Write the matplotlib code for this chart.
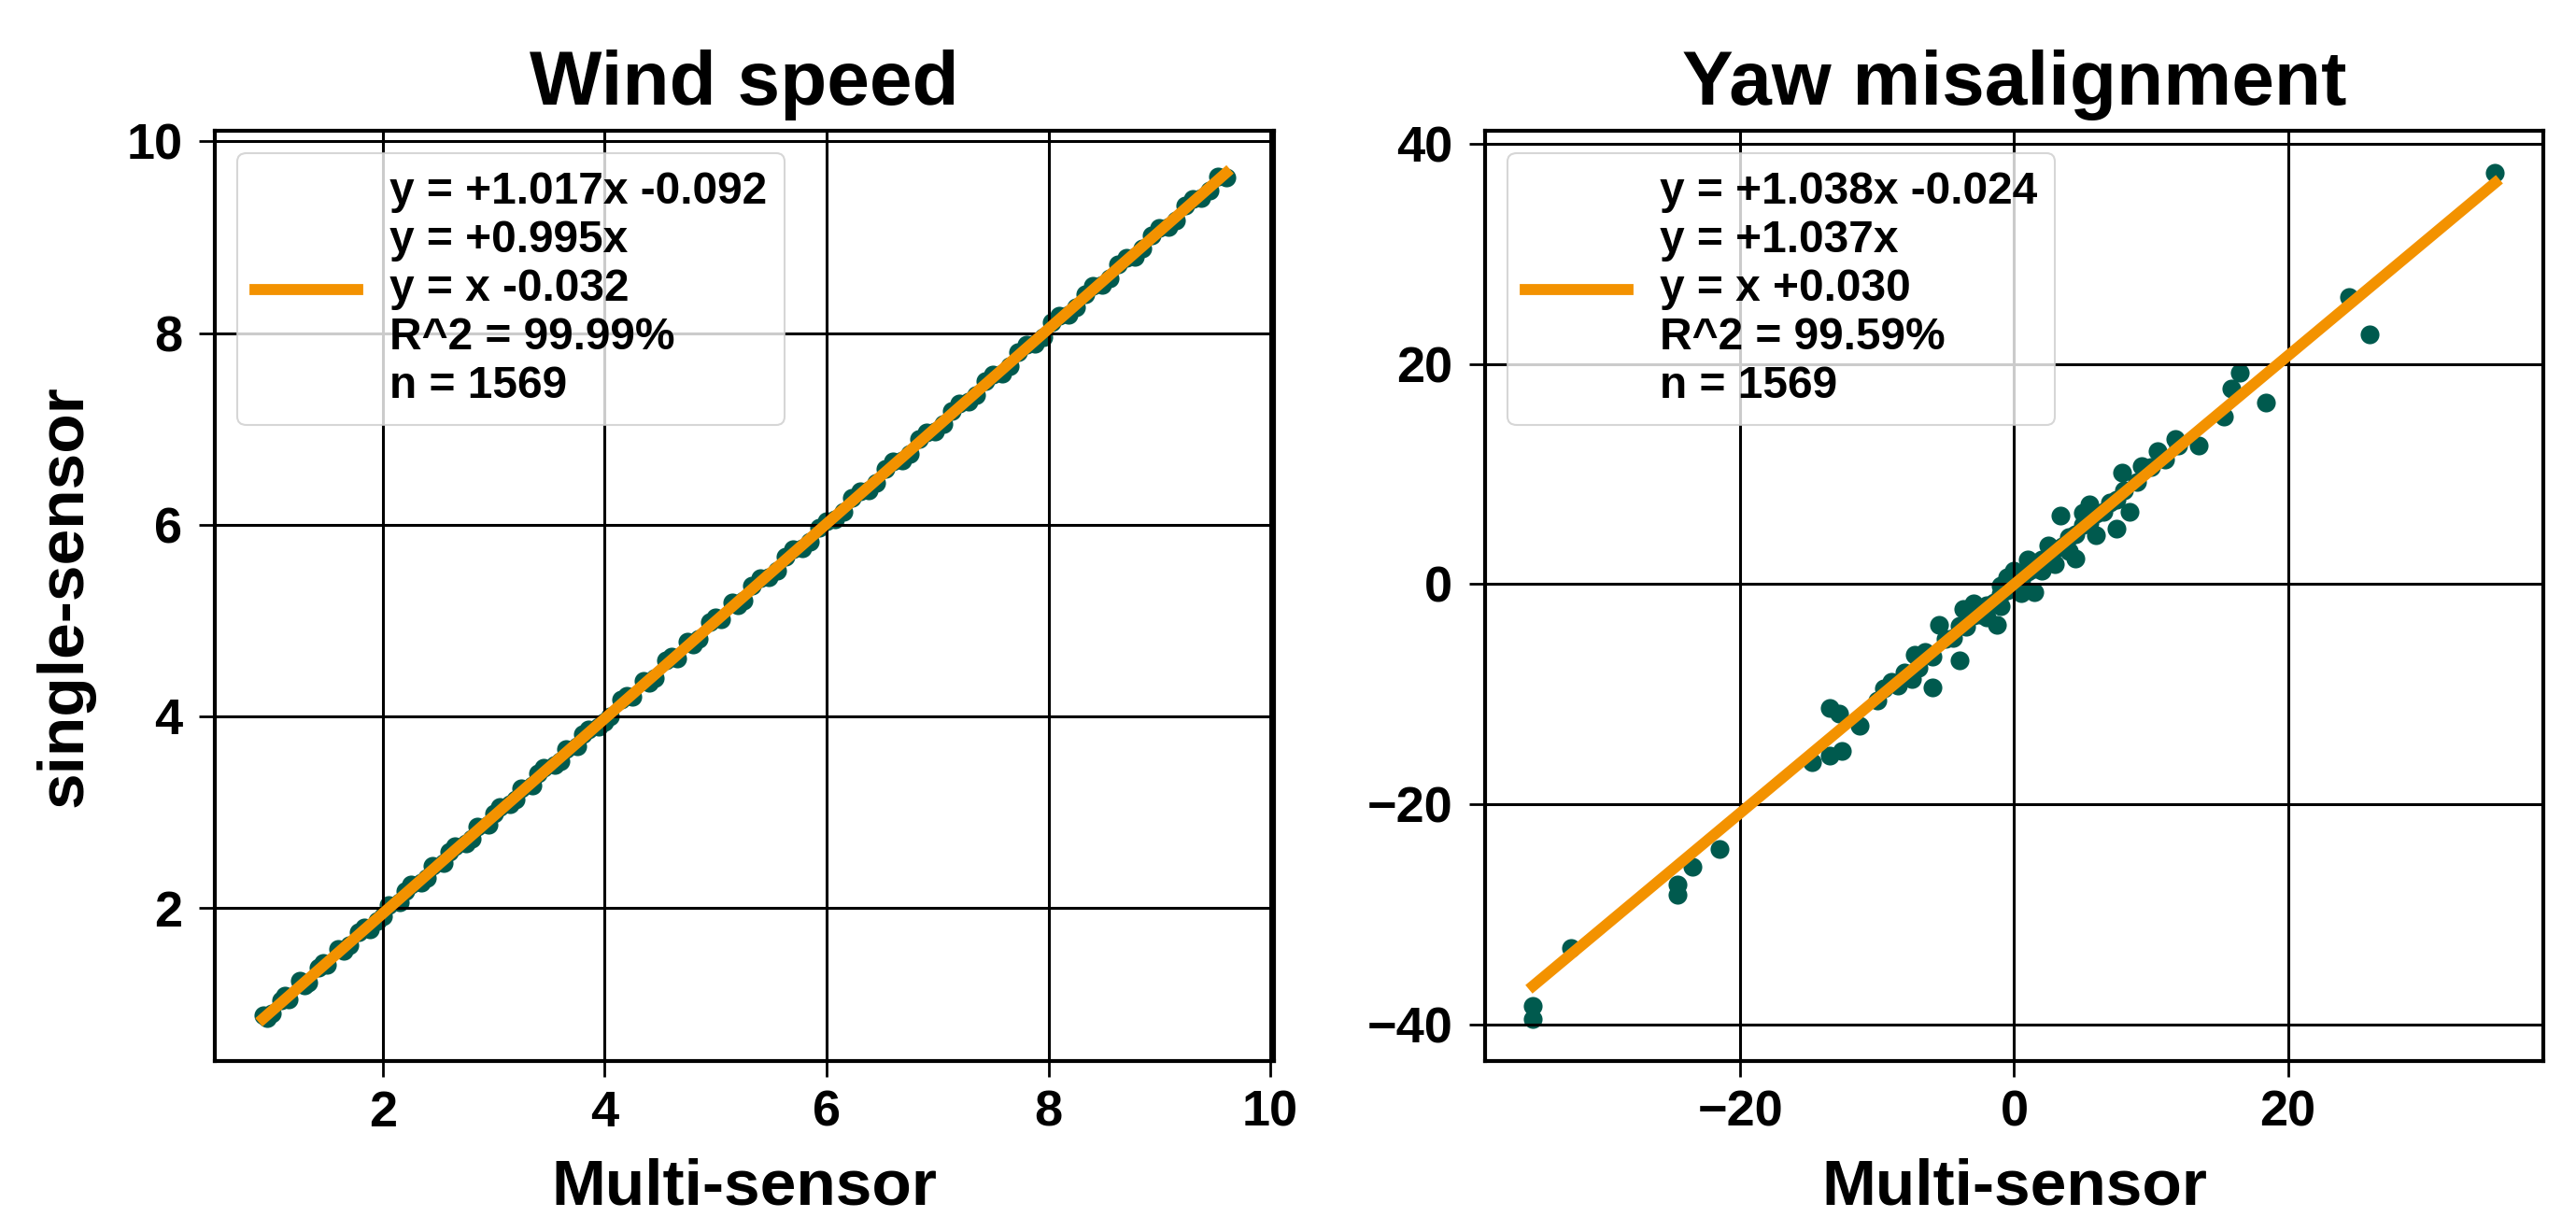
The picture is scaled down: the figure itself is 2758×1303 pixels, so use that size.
import matplotlib
matplotlib.use("Agg")
import matplotlib.pyplot as plt

# ---------------- data ----------------
wind_x = [0.92, 1.0, 1.08, 1.15, 1.25, 1.33, 1.42, 1.5, 1.6, 1.7, 1.78, 1.88, 1.95,
          2.05, 2.15, 2.25, 2.35, 2.45, 2.55, 2.65, 2.75, 2.85, 2.95, 3.05, 3.15,
          3.25, 3.35, 3.45, 3.55, 3.65, 3.75, 3.85, 3.95, 4.05, 4.15, 4.25, 4.35,
          4.45, 4.55, 4.65, 4.75, 4.85, 4.95, 5.05, 5.15, 5.25, 5.4, 5.55, 5.7,
          5.85, 6.0, 6.15, 6.3, 6.45, 6.6, 6.75, 6.9, 7.05, 7.2, 7.35, 7.5, 7.65,
          7.8, 7.95, 8.1, 8.25, 8.4, 8.55, 8.7, 8.85, 9.0, 9.15, 9.3, 9.45, 9.6,
          0.96, 1.12, 1.29, 1.46, 1.65, 1.83, 2.0, 2.2, 2.4, 2.6, 2.8, 3.0, 3.2,
          3.4, 3.6, 3.8, 4.0, 4.2, 4.4, 4.6, 4.8, 5.0, 5.2, 5.33, 5.48, 5.63, 5.78,
          5.93, 6.08, 6.23, 6.38, 6.53, 6.68, 6.83, 6.98, 7.13, 7.28, 7.43, 7.58,
          7.73, 7.88, 8.03, 8.18, 8.33, 8.48, 8.63, 8.78, 8.93, 9.08, 9.23, 9.38, 9.53]
wind_y = [0.88, 0.90, 1.04, 1.05, 1.24, 1.22, 1.38, 1.41, 1.57, 1.61, 1.75, 1.78, 1.86,
          2.03, 2.06, 2.24, 2.26, 2.44, 2.47, 2.64, 2.67, 2.85, 2.87, 3.05, 3.08,
          3.25, 3.28, 3.46, 3.49, 3.66, 3.69, 3.86, 3.89, 4.00, 4.17, 4.20, 4.37,
          4.40, 4.58, 4.60, 4.78, 4.81, 4.98, 5.01, 5.19, 5.21, 5.44, 5.52, 5.74,
          5.82, 6.04, 6.13, 6.35, 6.44, 6.66, 6.74, 6.96, 7.05, 7.27, 7.35, 7.57, 7.66,
          7.88, 7.96, 8.18, 8.27, 8.49, 8.57, 8.79, 8.88, 9.10, 9.18, 9.40, 9.49, 9.62,
          0.85, 1.08, 1.19, 1.43, 1.55, 1.80, 1.91, 2.18, 2.31, 2.59, 2.72, 2.99, 3.13,
          3.40, 3.53, 3.81, 3.94, 4.21, 4.35, 4.62, 4.75, 5.03, 5.16, 5.36, 5.45, 5.67, 5.75,
          5.97, 6.06, 6.28, 6.36, 6.58, 6.67, 6.89, 6.97, 7.19, 7.28, 7.50, 7.58,
          7.80, 7.89, 8.11, 8.19, 8.41, 8.50, 8.72, 8.80, 9.02, 9.11, 9.33, 9.41, 9.63]

yaw_x = [35.15, 24.5, 26.0, 16.5, 15.9, 18.4, 15.3, 13.5, 11.8, 10.5, 9.3, 7.9, 8.4,
         7.5, 5.5, 6.0, 4.5, 3.4, 1.5, 2.0, 0.0, -1.0, -1.25, -3.0, -3.75, -5.5,
         -4.0, -6.0, -7.3, -7.5, -9.0, -13.5, -12.8, -11.3, -13.5, -12.6, -14.8,
         -21.5, -23.5, -24.6, -24.6, -32.4, -35.15, -35.15,
         -10.0, -9.5, -8.5, -8.0, -7.0, -6.5, -6.0, -5.0, -4.5, -4.0, -3.5, -3.0,
         -2.5, -2.0, -1.5, -1.0, -0.5, 0.0, 0.5, 1.0, 1.5, 2.0, 2.5, 3.0, 3.5, 4.0,
         4.5, 5.0, 5.5, 6.0, 6.5, 7.0, 7.5, 8.0, 9.0, 10.0, 11.0, 12.0, 2.5, -2.0,
         3.0, 1.0, -1.0, 4.0, 5.0, 0.5, -0.5]
yaw_y = [37.35, 26.1, 22.7, 19.2, 17.75, 16.5, 15.2, 12.6, 13.2, 12.05, 10.7, 10.15, 6.6,
         5.0, 7.2, 4.45, 2.3, 6.2, -0.7, 1.2, 1.2, -0.15, -3.7, -1.8, -2.3, -3.7,
         -6.95, -9.4, -6.4, -8.6, -8.85, -11.3, -11.8, -12.9, -15.6, -15.2, -16.2,
         -24.05, -25.7, -27.3, -28.2, -33.1, -38.3, -39.5,
         -10.6, -9.5, -9.2, -8.0, -7.6, -6.2, -6.6, -5.0, -4.9, -3.8, -3.9, -2.9,
         -2.8, -1.9, -1.7, -0.9, -0.6, 0.1, 0.4, 1.1, 1.4, 2.2, 2.4, 3.2, 3.4, 4.3,
         4.5, 5.4, 5.5, 6.4, 6.6, 7.4, 7.7, 8.5, 9.3, 10.6, 11.3, 12.6, 3.5, -3.0,
         1.8, 2.2, -2.0, 3.0, 6.5, -0.8, 0.6]

wind_fit = [1.017, -0.092]
yaw_fit = [1.038, -0.024]

wind_label = "y = +1.017x -0.092\ny = +0.995x\ny = x -0.032\nR^2 = 99.99%\nn = 1569"
yaw_label = "y = +1.038x -0.024\ny = +1.037x\ny = x +0.030\nR^2 = 99.59%\nn = 1569"

titles = ["Wind speed", "Yaw misalignment"]
xlabel = "Multi-sensor"
ylabel = "single-sensor"
wind_xticks = [2, 4, 6, 8, 10]
wind_yticks = [2, 4, 6, 8, 10]
yaw_xticks = [-20, 0, 20]
yaw_yticks = [-40, -20, 0, 20, 40]

# ---------------- style ----------------
plt.rcParams['font.family'] = ['Liberation Sans', 'DejaVu Sans']
plt.rcParams['font.weight'] = 'bold'
DOT = '#005a4e'
ORANGE = '#f39200'

fig = plt.figure(figsize=(27.58, 13.03), dpi=100)
ax1 = fig.add_axes([0.0834, 0.1282, 0.4112, 0.7644])
ax2 = fig.add_axes([0.5765, 0.1282, 0.4108, 0.7644])

panels = [
    (ax1, wind_x, wind_y, wind_fit, wind_label, titles[0], wind_xticks, wind_yticks),
    (ax2, yaw_x, yaw_y, yaw_fit, yaw_label, titles[1], yaw_xticks, yaw_yticks),
]

for ax, xs, ys, fit, lab, title, xt, yt in panels:
    ax.scatter(xs, ys, s=210, color=DOT, linewidths=0, zorder=1)
    xl = [min(xs), max(xs)]
    yl = [fit[0] * v + fit[1] for v in xl]
    ax.plot(xl, yl, color=ORANGE, lw=8.5, label=lab, zorder=2)
    ax.set_xticks(xt)
    ax.set_yticks(yt)
    ax.grid(True, color='black', lw=2.2)
    for sp in ax.spines.values():
        sp.set_linewidth(3)
    ax.tick_params(axis='both', labelsize=39, length=12, width=2)
    ax.tick_params(axis='x', pad=10)
    ax.tick_params(axis='y', pad=13)
    for t in ax.get_xticklabels() + ax.get_yticklabels():
        t.set_fontweight('bold')
    ax.set_title(title, fontsize=59, fontweight='bold', pad=20)
    ax.set_xlabel(xlabel, fontsize=50, fontweight='bold')
    ax.xaxis.set_label_coords(0.5, -0.104)
    leg = ax.legend(loc='upper left', fontsize=34.5, framealpha=0.8,
                    handlelength=2.3, handletextpad=0.7, borderpad=0.4)
    leg.get_frame().set_linewidth(1.5)

ax1.set_ylabel(ylabel, fontsize=50, fontweight='bold')
ax1.yaxis.set_label_coords(-0.113, 0.5)

fig.savefig("out.png", dpi=100)
